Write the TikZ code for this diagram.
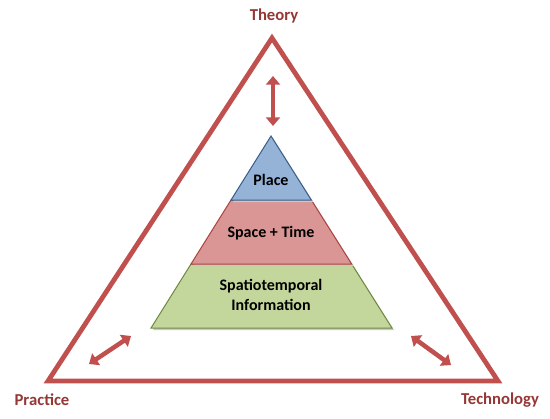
\documentclass[tikz,border=0pt]{standalone}
\usepackage{fontspec}
\setmainfont{Carlito}
\usetikzlibrary{arrows.meta}
\usetikzlibrary{calc}
\definecolor{framered}{HTML}{C0504D}
\definecolor{labelred}{HTML}{953735}
\definecolor{placeblue}{HTML}{95B3D7}
\definecolor{placeline}{HTML}{385D8A}
\definecolor{spacepink}{HTML}{D99694}
\definecolor{spaceline}{HTML}{B0413E}
\definecolor{infogreen}{HTML}{C3D69B}
\definecolor{infoline}{HTML}{71893F}
\tikzset{
    corner label/.style={font=\fontsize{12.5}{14}\selectfont\bfseries, text=labelred},
    layer label/.style={font=\fontsize{12}{15}\selectfont\bfseries, align=center},
    frame line/.style={draw=framered, line width=3.6pt, line join=miter},
    link arrow/.style={draw=framered, line width=3.4pt, {Triangle[width=10.5pt,length=6.5pt]}-{Triangle[width=10.5pt,length=6.5pt]}},
}
\newcommand{\drawlayer}[5]{
    \fill [black!22] ($(#1)+(2,2)$) -- ($(#2)+(2,2)$) -- ($(#3)+(2,2)$) -- ($(#4)+(2,2)$) -- cycle;
    \filldraw [#5, line width=0.75pt] (#1) -- (#2) -- (#3) -- (#4) -- cycle;
}

\begin{document}
\begin{tikzpicture}[x=0.75pt, y=-0.75pt]
    \useasboundingbox (0,0) rectangle (550,418);
    % outer triangle
    \coordinate (theory corner) at (272,38);
    \coordinate (practice corner) at (48,381);
    \coordinate (technology corner) at (498,381);
    \draw [frame line] (theory corner) -- (technology corner) -- (practice corner) -- cycle;
    \node [corner label] (theory) at (274,16) {Theory};
    \node [corner label] (practice) at (42,400) {Practice};
    \node [corner label] (technology) at (500,400) {Technology};
    % pyramid
    \coordinate (apex) at (271,136);
    \coordinate (base left) at (151,328);
    \coordinate (base right) at (392,328);
    \coordinate (upper left) at ($(apex)!1/3!(base left)$);
    \coordinate (upper right) at ($(apex)!1/3!(base right)$);
    \coordinate (lower left) at ($(apex)!2/3!(base left)$);
    \coordinate (lower right) at ($(apex)!2/3!(base right)$);
    \drawlayer{lower left}{base left}{base right}{lower right}{fill=infogreen, draw=infoline};
    \drawlayer{upper left}{lower left}{lower right}{upper right}{fill=spacepink, draw=spaceline};
    \drawlayer{apex}{upper left}{upper right}{apex}{fill=placeblue, draw=placeline};
    \node [layer label] (place) at (271,180) {Place};
    \node [layer label] (space time) at (271,233) {Space + Time};
    \node [layer label] (information) at (271,295) {Spatiotemporal\\Information};
    % links
    \coordinate (theory link top) at (273,76);
    \coordinate (theory link bottom) at (273,126);
    \coordinate (practice link out) at (89,364);
    \coordinate (practice link in) at (131,336);
    \coordinate (technology link in) at (411,336);
    \coordinate (technology link out) at (451,365);
    \draw [link arrow] (theory link top) -- (theory link bottom);
    \draw [link arrow] (practice link out) -- (practice link in);
    \draw [link arrow] (technology link in) -- (technology link out);
\end{tikzpicture}
\end{document}
